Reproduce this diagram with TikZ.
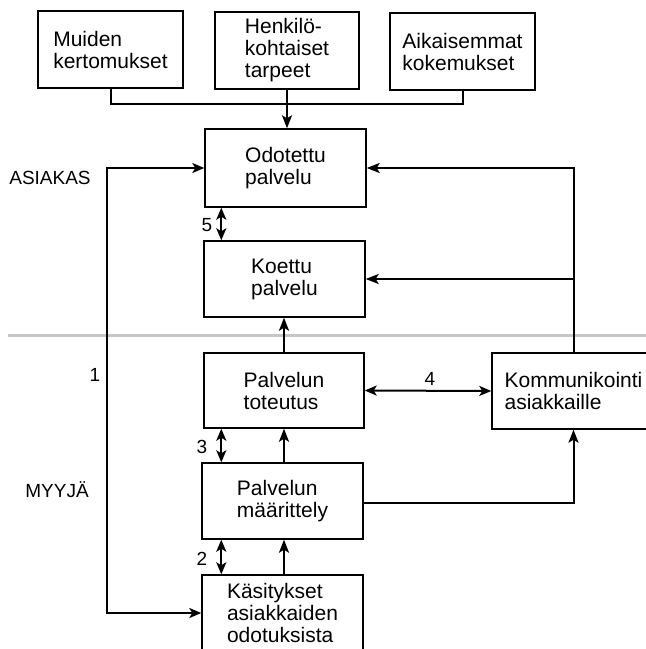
\documentclass[tikz,border=0pt]{standalone}
\usepackage{xcolor}
\usepackage{fontspec}
\setmainfont{Liberation Sans}
\usepackage{tikz}
\usetikzlibrary{shapes,arrows,arrows.meta,positioning}

\tikzset{
    box/.style={
        draw,
        line width=1.4pt,
        inner sep=0pt,
        minimum width=161pt,
        minimum height=77pt,
        align=left,
        font=\fontsize{21}{22}\selectfont
    },
    lbl/.style={
        inner sep=0pt,
        font=\fontsize{19}{22}\selectfont
    },
    conn/.style={
        line width=2pt
    },
    arr/.style={
        conn,
        -{Stealth[length=13pt,width=10pt,inset=3pt]}
    },
    dbl/.style={
        conn,
        {Stealth[length=12pt,width=10pt,inset=3pt]}-{Stealth[length=12pt,width=10pt,inset=3pt]}
    }
}

\begin{document}
\begin{tikzpicture}[x=1pt,y=-1pt]
                \useasboundingbox (0,0) rectangle (646,649);
                \clip (0,0) rectangle (646,649);

                \draw[
                    line width=3pt,
                    color=gray!45
                ] (8,335) -- (646,335);

                \node[box, minimum width=145pt] (muiden) at (110.5,49.5) {Muiden\\kertomukset};
                \node[box, minimum width=144pt] (henkilo) at (287,50.5) {Henkilö-\\kohtaiset\\tarpeet};
                \node[box, minimum width=145pt] (aikaisemmat) at (462.5,51.5) {Aikaisemmat\\kokemukset};

                \node[box, minimum height=78pt] (odotettu) at (285.5,168) {Odotettu\\palvelu};
                \node[box, minimum height=76pt] (koettu) at (284.5,279) {Koettu\\palvelu};
                \node[box, minimum width=160pt, minimum height=75pt] (toteutus) at (284,390.5) {Palvelun\\toteutus};
                \node[box, minimum width=163pt, minimum height=76pt] (kommunikointi) at (573.5,391) {Kommunikointi\\asiakkaille};
                \node[box, minimum height=76pt] (maarittely) at (282.5,501) {Palvelun\\määrittely};
                \node[box, minimum height=76pt] (kasitykset) at (282.5,613) {Käsitykset\\asiakkaiden\\odotuksista};

                \node[lbl] (asiakas) at (50,178) {ASIAKAS};
                \node[lbl] (myyja) at (57,490) {MYYJÄ};
                \node[lbl] (n1) at (95,375) {1};
                \node[lbl] (n2) at (202,559) {2};
                \node[lbl] (n3) at (202,447) {3};
                \node[lbl] (n4) at (430,379) {4};
                \node[lbl] (n5) at (207,225) {5};

                \draw[conn] (muiden.south) -- ++(0,15) -| (aikaisemmat.south);
                \draw[arr] (henkilo.south) -- (henkilo.south |- odotettu.north);

                \draw[dbl] (odotettu.west) -- ++(-97,0) |- (kasitykset.west);
                \draw[arr] (kommunikointi.north) |- (odotettu.east);
                \draw[arr] (kommunikointi.north) |- (koettu.east);

                \draw[dbl] ([xshift=17pt]odotettu.south west) -- ([xshift=18pt]koettu.north west);
                \draw[dbl] ([xshift=18pt]toteutus.south west) -- ([xshift=20pt]maarittely.north west);
                \draw[dbl] ([xshift=20pt]maarittely.south west) -- ([xshift=20pt]kasitykset.north west);
                \draw[dbl] (toteutus.east) -- (kommunikointi.west);

                \draw[arr] (toteutus.north) -- (toteutus.north |- koettu.south);
                \draw[arr] (maarittely.north -| toteutus.north) -- (toteutus.south);
                \draw[arr] (kasitykset.north -| toteutus.north) -- (toteutus.north |- maarittely.south);
                \draw[arr] (maarittely.east) ++(0,2) -| (kommunikointi.south);

            \end{tikzpicture}
\end{document}
